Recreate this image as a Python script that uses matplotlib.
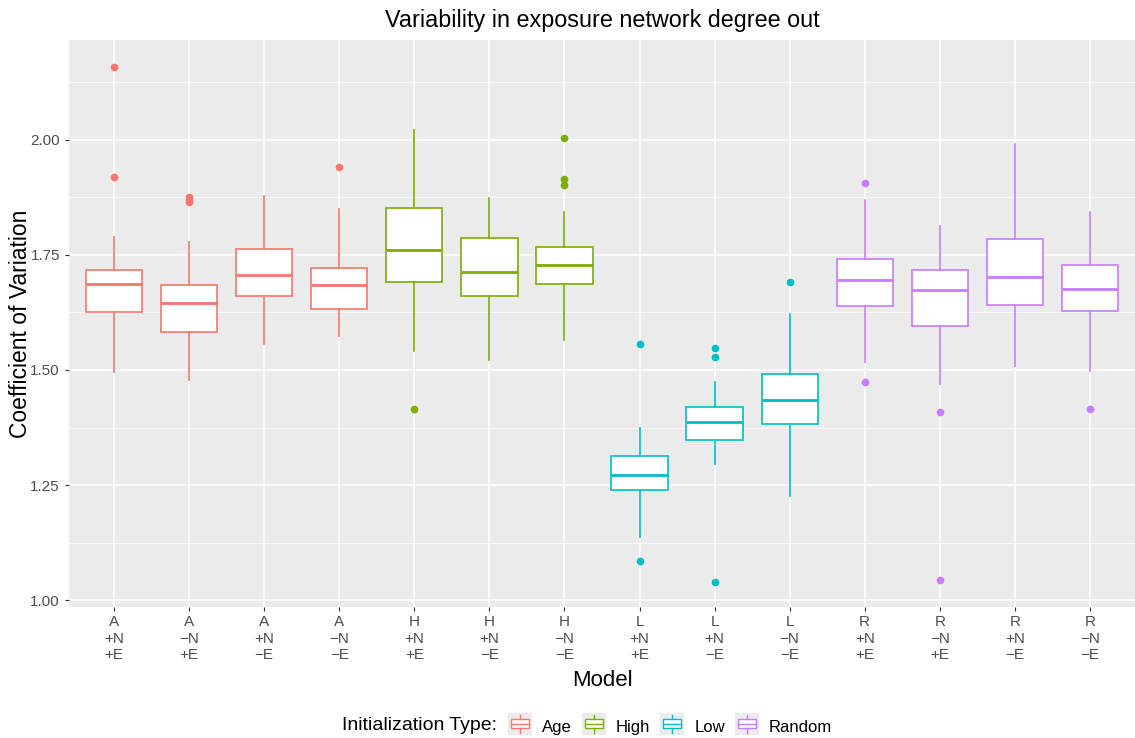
import matplotlib
matplotlib.use("Agg")
import matplotlib.pyplot as plt
from matplotlib.legend_handler import HandlerBase
from matplotlib.lines import Line2D
from matplotlib.patches import Rectangle
from matplotlib.ticker import MultipleLocator

plt.rcParams["font.family"] = ["Liberation Sans", "DejaVu Sans"]

# Model labels (init / network / exposure)
models = ["A\n+N\n+E", "A\n\u2212N\n+E", "A\n+N\n\u2212E", "A\n\u2212N\n\u2212E",
          "H\n+N\n+E", "H\n+N\n\u2212E", "H\n\u2212N\n\u2212E",
          "L\n+N\n+E", "L\n+N\n\u2212E", "L\n\u2212N\n\u2212E",
          "R\n+N\n+E", "R\n\u2212N\n+E", "R\n+N\n\u2212E", "R\n\u2212N\n\u2212E"]
init_type = ["Age"] * 4 + ["High"] * 3 + ["Low"] * 3 + ["Random"] * 4

# box statistics
whisk_lo = [1.496, 1.478, 1.557, 1.574, 1.542, 1.522, 1.566,
            1.138, 1.295, 1.226, 1.517, 1.470, 1.509, 1.497]
q1 = [1.625, 1.582, 1.661, 1.632, 1.692, 1.660, 1.686,
      1.239, 1.348, 1.383, 1.638, 1.596, 1.641, 1.629]
median = [1.687, 1.645, 1.707, 1.684, 1.760, 1.713, 1.729,
          1.272, 1.386, 1.435, 1.696, 1.674, 1.702, 1.677]
q3 = [1.717, 1.685, 1.762, 1.722, 1.851, 1.786, 1.767,
      1.313, 1.419, 1.491, 1.742, 1.717, 1.784, 1.728]
whisk_hi = [1.788, 1.778, 1.879, 1.849, 2.022, 1.873, 1.843,
            1.375, 1.473, 1.622, 1.869, 1.812, 1.992, 1.843]
outliers = [[2.159, 1.920], [1.876, 1.870, 1.865], [], [1.942],
            [1.415], [], [2.004, 1.915, 1.902],
            [1.557, 1.086], [1.547, 1.528, 1.039], [1.691],
            [1.907, 1.473], [1.409, 1.044], [], [1.415]]

palette = {"Age": "#F8766D", "High": "#7CAE00", "Low": "#00BFC4", "Random": "#C77CFF"}

W, H = 1135, 738
fig = plt.figure(figsize=(W / 100, H / 100), dpi=100)
ax = fig.add_axes([69 / W, 1 - 607 / H, 1 - 69 / W, (607 - 40) / H])
ax.set_facecolor("#EBEBEB")

for i in range(len(models)):
    st = {"whislo": whisk_lo[i], "q1": q1[i], "med": median[i],
          "q3": q3[i], "whishi": whisk_hi[i], "fliers": outliers[i]}
    c = palette[init_type[i]]
    ax.bxp([st], positions=[i + 1], widths=0.75, patch_artist=True,
           showcaps=False,
           boxprops=dict(facecolor="white", edgecolor=c, linewidth=1.2),
           medianprops=dict(color=c, linewidth=2.0),
           whiskerprops=dict(color=c, linewidth=1.2),
           flierprops=dict(marker="o", markerfacecolor=c, markeredgecolor=c,
                           markersize=4.5, linestyle="none"),
           zorder=3)

ax.set_xlim(0.4, 14.6)
ax.set_xticks(range(1, len(models) + 1))
ax.set_xticklabels(models, linespacing=1.2)
ax.yaxis.set_minor_locator(MultipleLocator(0.125))
ax.set_ylim(0.985, 2.217)
ax.set_yticks([1.0, 1.25, 1.5, 1.75, 2.0])
ax.set_yticklabels(["1.00", "1.25", "1.50", "1.75", "2.00"])

ax.grid(which="major", color="white", linewidth=1.1, zorder=0)
ax.grid(which="minor", axis="y", color="white", linewidth=0.5, zorder=0)
ax.set_axisbelow(True)
for s in ax.spines.values():
    s.set_visible(False)
ax.tick_params(axis="both", which="major", colors="#333333", labelcolor="#4D4D4D",
               labelsize=11, length=3)
ax.tick_params(axis="x", pad=3)
ax.tick_params(axis="y", which="minor", length=0)

ax.set_title("Variability in exposure network degree out", fontsize=16.8, pad=9)
ax.set_xlabel("Model", fontsize=16, labelpad=6)
fig.text(21 / W, 1 - 323.5 / H, "Coefficient of Variation", fontsize=16.5,
         rotation=90, ha="center", va="center")


class BoxKey(HandlerBase):
    def create_artists(self, legend, orig, xd, yd, w, h, fontsize, trans):
        c = orig.get_edgecolor()
        y0, hh = yd - 0.3 * h, 1.6 * h
        bg = Rectangle((xd, y0), w, hh, facecolor="#EBEBEB",
                       edgecolor="none", transform=trans)
        cx = xd + w / 2
        bx = Rectangle((xd + w * 0.12, y0 + hh * 0.3), w * 0.76, hh * 0.4,
                       facecolor="white", edgecolor=c, linewidth=1, transform=trans)
        med = Line2D([xd + w * 0.12, xd + w * 0.88], [y0 + hh / 2] * 2,
                     color=c, linewidth=1, transform=trans)
        wt = Line2D([cx, cx], [y0 + hh * 0.7, y0 + hh * 0.9], color=c, linewidth=1, transform=trans)
        wb = Line2D([cx, cx], [y0 + hh * 0.1, y0 + hh * 0.3], color=c, linewidth=1, transform=trans)
        return [bg, bx, med, wt, wb]


handles = [Rectangle((0, 0), 1, 1, edgecolor=palette[k], facecolor="white") for k in palette]
fig.legend(handles, list(palette.keys()), handler_map={Rectangle: BoxKey()},
           loc="center left", bbox_to_anchor=(508 / W, 1 - 727 / H), ncol=4,
           frameon=False, fontsize=12, borderpad=0, borderaxespad=0,
           handlelength=1.44, handleheight=0.9, handletextpad=0.6, columnspacing=0.6)
fig.text(342 / W, 1 - 726 / H, "Initialization Type:", fontsize=14,
         ha="left", va="center")

fig.savefig("out.png", dpi=100)
